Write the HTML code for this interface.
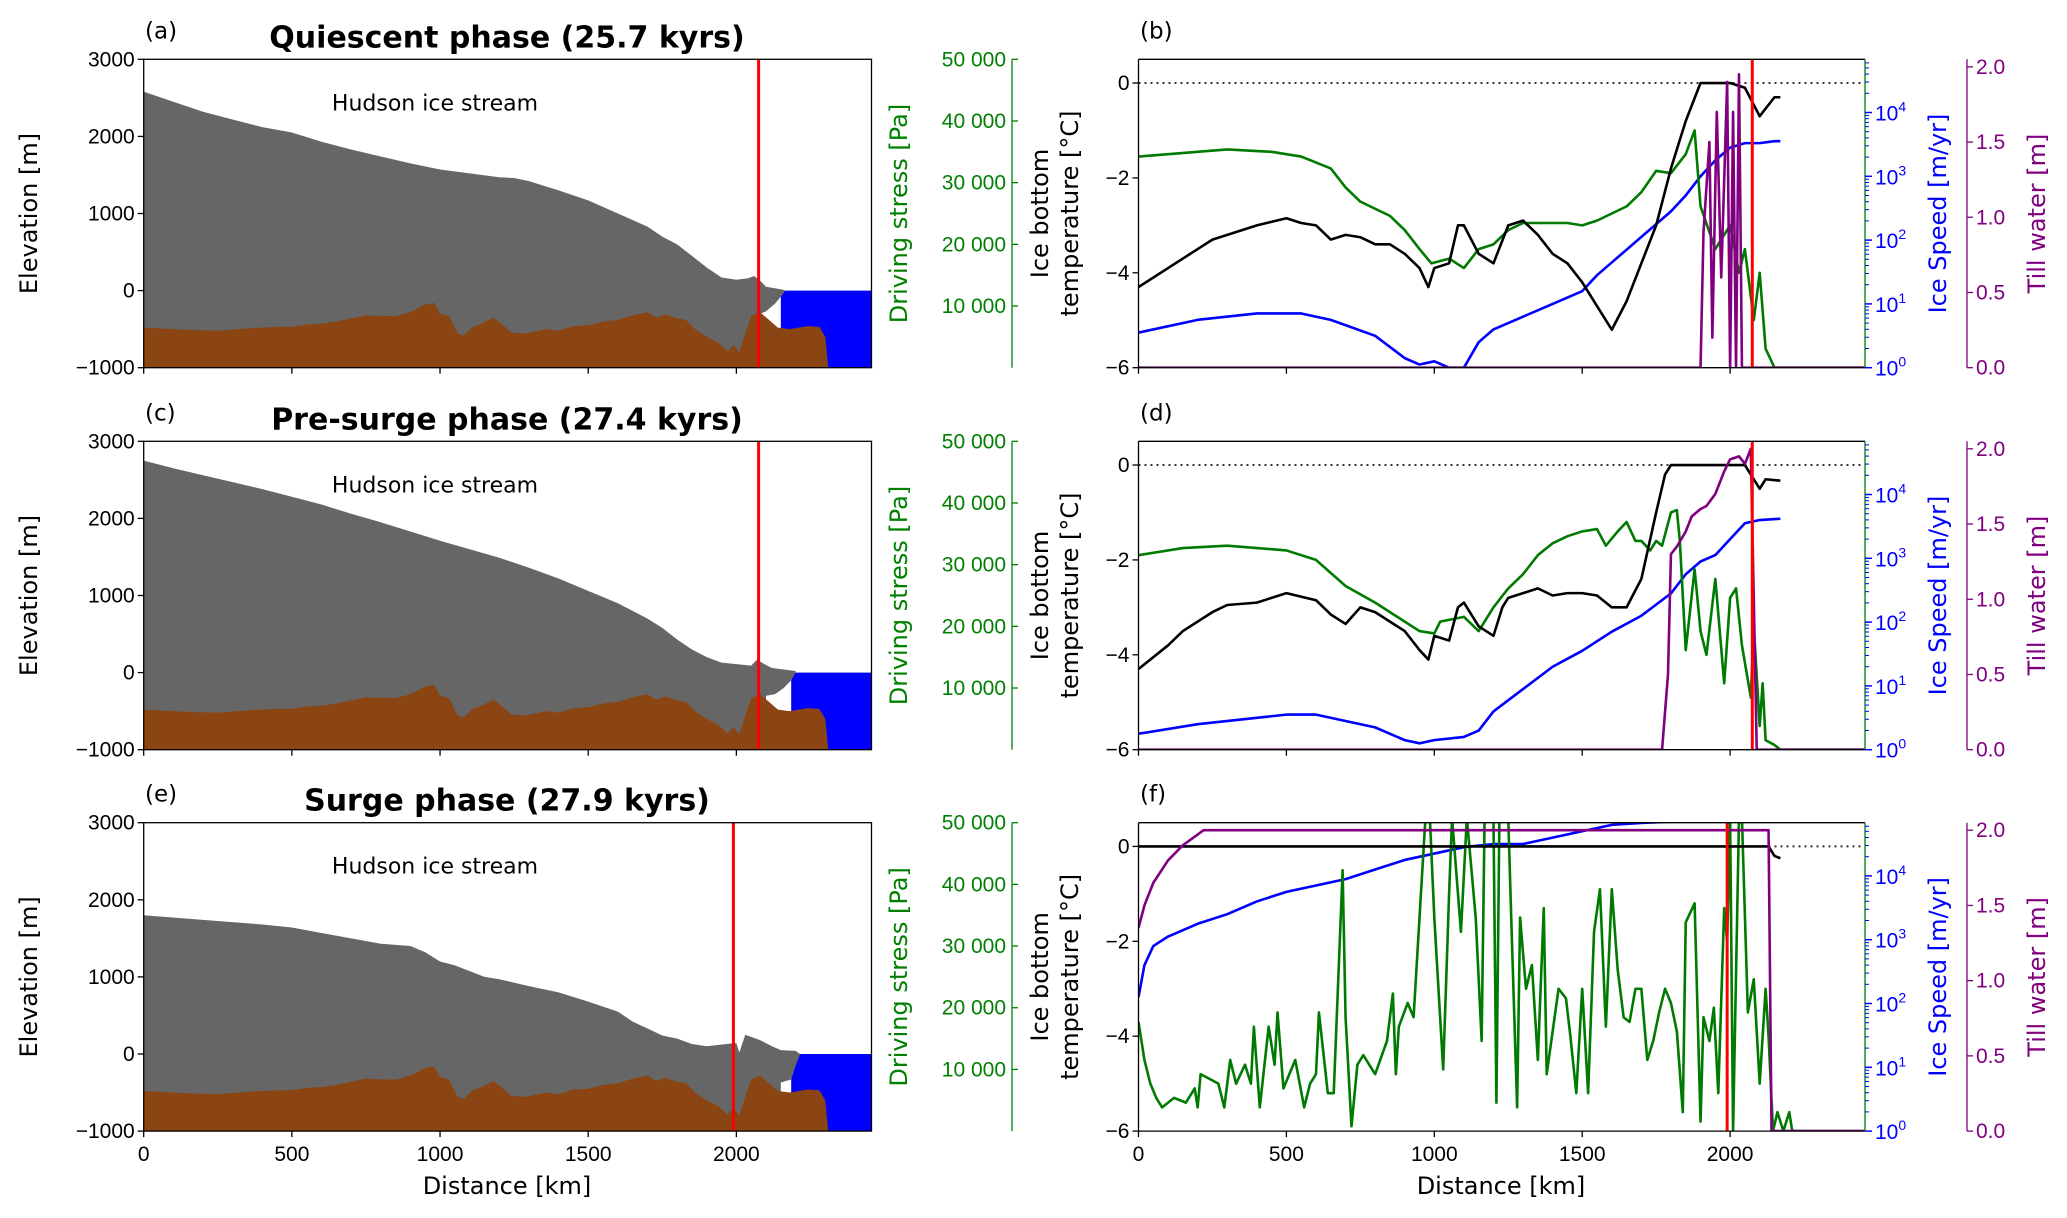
<!DOCTYPE html>
<html><head><meta charset="utf-8"><style>
html,body{margin:0;padding:0;background:#fff}
svg{display:block;font-family:"Liberation Sans",sans-serif}
.lab{font-family:"DejaVu Sans","Liberation Sans",sans-serif}
</style></head><body>
<svg id="fig" xmlns="http://www.w3.org/2000/svg" width="2067" height="1218" viewBox="0 0 2067 1218"></svg>
<script>
// ---------- data ----------
const bedX = [0,50,150,250,350,450,500,550,600,650,700,750,800,850,900,950,980,1000,1030,1060,1080,1110,1140,1180,1210,1240,1280,1320,1360,1400,1450,1500,1550,1600,1650,1700,1730,1760,1800,1830,1860,1900,1940,1970,1990,2010,2030,2050,2080,2110,2140,2180,2240,2280,2300,2310];
const bedZ = [-480,-490,-510,-520,-490,-470,-470,-440,-430,-400,-360,-320,-330,-330,-280,-180,-160,-300,-330,-560,-580,-470,-430,-350,-440,-540,-560,-530,-500,-520,-460,-450,-400,-380,-320,-280,-350,-310,-360,-380,-500,-600,-680,-790,-700,-800,-560,-330,-280,-380,-480,-500,-460,-470,-600,-1000];
const surfAX = [0,100,200,300,400,500,600,700,800,900,1000,1100,1200,1250,1300,1400,1500,1600,1700,1750,1800,1850,1900,1950,2000,2040,2060,2080,2100,2130,2160];
const surfAZ = [2580,2450,2320,2220,2120,2050,1930,1830,1740,1650,1570,1520,1470,1460,1420,1300,1170,1000,830,700,600,450,300,170,140,160,190,130,50,30,10];
const shelfAX = [2165,2150,2130,2100,2080];
const shelfAZ = [0,-80,-170,-270,-300];
const surfCX = [0,100,200,300,400,500,600,700,800,900,1000,1100,1200,1300,1400,1500,1600,1700,1750,1800,1850,1900,1950,2000,2050,2070,2090,2120,2160,2200];
const surfCZ = [2750,2650,2560,2470,2380,2280,2180,2060,1950,1830,1710,1600,1490,1360,1220,1060,900,700,580,430,300,200,130,110,90,170,120,60,40,20];
const shelfCX = [2200,2185,2160,2130,2100];
const shelfCZ = [0,-100,-200,-280,-300];
const surfEX = [0,200,400,500,600,700,800,900,950,1000,1050,1150,1200,1300,1400,1500,1600,1650,1700,1750,1800,1850,1900,1990,2000,2010,2030,2080,2120,2150,2200,2215];
const surfEZ = [1800,1740,1680,1640,1570,1500,1430,1400,1320,1200,1150,1000,970,880,800,680,550,420,330,240,200,130,100,140,140,20,250,180,100,50,40,0];
const shelfEX = [2215,2200,2185,2150];
const shelfEZ = [0,-150,-330,-370];
const waterStart = [2150, 2185, 2185];
const groundLine = [2075, 2075, 1990];
const titles = ["Quiescent phase (25.7 kyrs)","Pre-surge phase (27.4 kyrs)","Surge phase (27.9 kyrs)"];

const tBX=[0,100,200,250,300,400,500,550,600,650,700,750,800,850,900,950,980,1000,1050,1080,1100,1150,1200,1250,1300,1350,1400,1450,1500,1550,1600,1650,1700,1750,1800,1850,1900,1950,2000,2050,2100,2150,2170];
const tBV=[-4.3,-3.9,-3.5,-3.3,-3.2,-3.0,-2.85,-2.95,-3.0,-3.3,-3.2,-3.25,-3.4,-3.4,-3.6,-3.9,-4.3,-3.9,-3.8,-3.0,-3.0,-3.6,-3.8,-3.0,-2.9,-3.2,-3.6,-3.8,-4.2,-4.7,-5.2,-4.6,-3.8,-3.0,-1.8,-0.8,0,0,0,-0.1,-0.7,-0.3,-0.3];
const gBX=[0,200,300,450,550,650,700,750,800,850,900,950,990,1050,1100,1150,1200,1250,1300,1350,1450,1500,1550,1600,1650,1700,1750,1800,1850,1880,1900,1950,2000,2030,2050,2080,2100,2120,2150,2456];
const gBV=[-1.55,-1.45,-1.4,-1.45,-1.55,-1.8,-2.2,-2.5,-2.65,-2.8,-3.1,-3.5,-3.8,-3.7,-3.9,-3.5,-3.4,-3.1,-2.95,-2.95,-2.95,-3.0,-2.9,-2.75,-2.6,-2.3,-1.85,-1.9,-1.5,-1.0,-2.6,-3.5,-3.0,-4.0,-3.5,-5.0,-4.0,-5.6,-6,-6];
const sBX=[0,200,400,550,650,800,900,950,1000,1050,1100,1150,1200,1300,1400,1500,1550,1600,1650,1700,1750,1800,1850,1900,1950,2000,2050,2100,2150,2170];
const sBV=[0.55,0.75,0.85,0.85,0.75,0.5,0.15,0.05,0.1,0.0,0.0,0.4,0.6,0.8,1.0,1.2,1.45,1.65,1.85,2.05,2.25,2.45,2.7,3.0,3.25,3.45,3.52,3.52,3.55,3.55];
const wBX=[0,1900,1910,1930,1940,1955,1970,1990,2000,2010,2020,2030,2040,2456];
const wBV=[0,0,0.9,1.5,0.2,1.7,0.6,1.9,0,1.7,0,1.95,0,0];

const tDX=[0,100,150,250,300,400,500,600,650,700,750,800,850,900,950,980,1000,1050,1080,1100,1150,1200,1230,1250,1300,1350,1400,1450,1500,1550,1600,1650,1700,1750,1780,1800,2050,2080,2100,2120,2170];
const tDV=[-4.3,-3.8,-3.5,-3.1,-2.95,-2.9,-2.7,-2.85,-3.15,-3.35,-3.0,-3.1,-3.3,-3.5,-3.9,-4.1,-3.6,-3.7,-3.0,-2.9,-3.4,-3.6,-3.0,-2.8,-2.7,-2.6,-2.75,-2.7,-2.7,-2.75,-3.0,-3.0,-2.4,-1.0,-0.2,0,0,-0.3,-0.5,-0.3,-0.33];
const gDX=[0,150,300,500,600,700,800,900,950,1000,1020,1100,1150,1200,1250,1300,1350,1400,1450,1500,1550,1580,1620,1650,1680,1700,1730,1750,1770,1800,1820,1830,1850,1880,1900,1920,1950,1980,2000,2020,2040,2070,2080,2100,2110,2120,2150,2170,2456];
const gDV=[-1.9,-1.75,-1.7,-1.8,-2.0,-2.55,-2.9,-3.3,-3.5,-3.55,-3.3,-3.2,-3.5,-3.0,-2.6,-2.3,-1.9,-1.65,-1.5,-1.4,-1.35,-1.7,-1.4,-1.2,-1.6,-1.6,-1.8,-1.6,-1.7,-1.0,-0.95,-1.6,-3.9,-2.2,-3.5,-4.0,-2.4,-4.6,-2.8,-2.6,-3.8,-4.9,-3.4,-5.5,-4.6,-5.8,-5.9,-6,-6];
const sDX=[0,200,400,500,600,700,800,900,950,1000,1100,1150,1200,1300,1400,1500,1600,1700,1800,1850,1900,1950,2000,2050,2100,2170];
const sDV=[0.25,0.4,0.5,0.55,0.55,0.45,0.35,0.15,0.1,0.15,0.2,0.3,0.6,0.95,1.3,1.55,1.85,2.1,2.45,2.75,2.95,3.05,3.3,3.55,3.6,3.62];
const wDX=[0,1770,1790,1800,1820,1850,1870,1900,1920,1950,1980,2000,2030,2050,2070,2080,2090,2456];
const wDV=[0,0,0.5,1.3,1.35,1.45,1.55,1.6,1.62,1.7,1.85,1.93,1.95,1.9,2.0,1.0,0,0];

const tFX=[0,2130,2150,2170];
const tFV=[0,0,-0.2,-0.25];
const gFX=[0,20,40,60,80,120,160,190,200,210,240,270,290,310,330,360,380,390,410,440,460,470,490,530,560,580,600,610,640,660,690,700,720,740,760,800,840,860,870,880,910,930,950,970,985,1000,1030,1050,1060,1090,1110,1140,1160,1170,1200,1210,1220,1250,1260,1280,1290,1310,1330,1350,1370,1380,1420,1445,1460,1480,1500,1520,1540,1560,1580,1600,1620,1640,1660,1680,1700,1720,1740,1760,1780,1800,1820,1840,1850,1880,1900,1910,1930,1945,1960,1980,1990,2000,2010,2030,2040,2060,2080,2100,2120,2130,2145,2160,2180,2200,2210,2456];
const gFV=[-3.7,-4.5,-5.0,-5.3,-5.5,-5.3,-5.4,-5.1,-5.5,-4.8,-4.9,-5.0,-5.5,-4.5,-5.0,-4.6,-5.0,-3.8,-5.5,-3.8,-4.6,-3.5,-5.1,-4.5,-5.5,-5.0,-4.8,-3.5,-5.2,-5.2,-0.5,-3.6,-5.9,-4.6,-4.4,-4.8,-4.1,-3.1,-4.8,-3.8,-3.3,-3.6,-1.5,0.6,0.6,-1.5,-4.7,-1.0,0.6,-1.8,0.6,-1.5,-4.1,0.6,0.6,-5.4,0.6,0.6,-1.5,-5.5,-1.5,-3.0,-2.5,-4.5,-1.3,-4.8,-3.0,-3.2,-4.0,-5.2,-3.0,-5.2,-1.8,-0.9,-3.8,-0.9,-2.6,-3.6,-3.7,-3.0,-3.0,-4.5,-4.1,-3.5,-3.0,-3.3,-3.9,-5.6,-1.6,-1.2,-5.8,-3.6,-4.1,-3.4,-5.2,-1.3,-2.0,0.6,-6,0.6,0.6,-3.5,-2.8,-5.0,-3.0,-4.0,-6,-5.6,-6,-5.6,-6,-6];
const sFX=[0,20,50,100,150,200,300,400,500,600,700,800,900,1000,1100,1200,1300,1400,1500,1600,1700,1800,1900,2000,2050,2080];
const sFV=[2.1,2.6,2.9,3.05,3.15,3.25,3.4,3.6,3.75,3.85,3.95,4.1,4.25,4.35,4.45,4.5,4.5,4.6,4.7,4.8,4.83,4.85,4.88,4.95,5.2,5.4];
const wFX=[0,20,50,100,150,220,2130,2140,2456];
const wFV=[1.35,1.5,1.65,1.8,1.9,2.0,2.0,0,0];

const xTicks=[0,500,1000,1500,2000];
const elevTicks=[-1000,0,1000,2000,3000];
const stressTicks=[10000,20000,30000,40000,50000];
const tempTicks=[-6,-4,-2,0];
const speedTicks=[0,1,2,3,4];
const tillTicks=[0,0.5,1.0,1.5,2.0];

// ---------- layout ----------
const XMAX=2456;
const LX0=143.7, LX1=871.5, RX0=1138.5, RX1=1865;
const rowTop=[59.3,441.3,822.7], H=308.4;
const LABF=24;
const svg=document.getElementById('fig');
const NS='http://www.w3.org/2000/svg';
function mk(tag,attrs,parent,text){const e=document.createElementNS(NS,tag);for(const k in attrs)e.setAttribute(k,attrs[k]);if(text!==undefined)e.textContent=text;(parent||svg).appendChild(e);return e;}
const defs=mk('defs',{});

function leftX(v){return LX0+v/XMAX*(LX1-LX0);}
function rightX(v){return RX0+v/XMAX*(RX1-RX0);}

for(let r=0;r<3;r++){
  const top=rowTop[r], bot=top+H;
  const eY=v=>bot-(v+1000)/4000*H;
  const sY=v=>bot-v/50000*H;
  const tY=v=>bot-(v+6)/6.5*H;
  const lY=v=>bot-v/4.834*H;
  const wY=v=>bot-v/2.05*H;
  const sx=[surfAX,surfCX,surfEX][r], sz=[surfAZ,surfCZ,surfEZ][r];
  const hx=[shelfAX,shelfCX,shelfEX][r], hz=[shelfAZ,shelfCZ,shelfEZ][r];
  const tag=['a','c','e'][r], tag2=['b','d','f'][r];

  // ---- left panel ----
  const gL=mk('g',{},svg);
  
  
  const cid='clipL'+r;
  const cp=mk('clipPath',{id:cid},defs);mk('rect',{x:LX0,y:top,width:LX1-LX0,height:H},cp);
  const gc=mk('g',{'clip-path':'url(#'+cid+')'},gL);
  const water=mk('rect',{x:leftX(waterStart[r]),y:eY(0),width:LX1-leftX(waterStart[r]),height:eY(-1000)-eY(0),fill:'#0000ff'},gc);
  
  
  let d='M'+leftX(0)+','+eY(-1000);
  sx.forEach((x,i)=>{d+=' L'+leftX(x)+','+eY(sz[i]);});
  hx.forEach((x,i)=>{d+=' L'+leftX(x)+','+eY(hz[i]);});
  d+=' L'+leftX(hx[hx.length-1])+','+eY(-1000)+' Z';
  const ice=mk('path',{d:d,fill:'#666666'},gc);
  
  
  let db='M'+leftX(0)+','+eY(-1000);
  bedX.forEach((x,i)=>{db+=' L'+leftX(x)+','+eY(bedZ[i]);});
  db+=' Z';
  const bed=mk('path',{d:db,fill:'#8b4513'},gc);
  
  
  const gl=mk('line',{x1:leftX(groundLine[r]),x2:leftX(groundLine[r]),y1:top,y2:bot,stroke:'#ff0000','stroke-width':3},gL);
  
  
  mk('rect',{x:LX0,y:top,width:LX1-LX0,height:H,fill:'none',stroke:'#000','stroke-width':1.3},gL);
  elevTicks.forEach(v=>{mk('line',{x1:LX0-6,x2:LX0,y1:eY(v),y2:eY(v),stroke:'#000','stroke-width':1.3},gL);
    const t=mk('text',{x:LX0-9,y:eY(v)+7,'font-size':21,'text-anchor':'end'},gL,v===-1000?'\u22121000':String(v));
    
    });
  xTicks.forEach(v=>{mk('line',{x1:leftX(v),x2:leftX(v),y1:bot,y2:bot+6,stroke:'#000','stroke-width':1.3},gL);
    if(r===2){const t=mk('text',{x:leftX(v),y:bot+30,'font-size':21,'text-anchor':'middle'},gL,String(v));
    
    }});
  const yl=mk('text',{x:0,y:0,'class':'lab','font-size':LABF,'text-anchor':'middle',transform:'translate(37,'+(top+H/2)+') rotate(-90)'},gL,'Elevation [m]');
  
  
  mk('line',{x1:1012,x2:1012,y1:top,y2:bot,stroke:'#008000','stroke-width':1.3},gL);
  stressTicks.forEach(v=>{mk('line',{x1:1012,x2:1018,y1:sY(v),y2:sY(v),stroke:'#008000','stroke-width':1.3},gL);
    const t=mk('text',{x:1006,y:sY(v)+7,'font-size':21,'text-anchor':'end',fill:'#008000'},gL,String(v).replace(/(\d\d)(000)$/,'$1 $2'));
    
    });
  const sl=mk('text',{x:0,y:0,'class':'lab','font-size':LABF,'text-anchor':'middle',fill:'#008000',transform:'translate(907,'+(top+H/2)+') rotate(-90)'},gL,'Driving stress [Pa]');
  
  
  const hl=mk('text',{x:435,y:top+51,'class':'lab','font-size':22,'text-anchor':'middle'},gL,'Hudson ice stream');
  
  
  const pl=mk('text',{x:145,y:top-21,'class':'lab','font-size':23},gL,'('+tag+')');
  
  
  const tt=mk('text',{x:507,y:top-12,'class':'lab','font-size':30,'font-weight':'bold','text-anchor':'middle'},gL,titles[r]);
  
  

  // ---- right panel ----
  const gR=mk('g',{},svg);
  
  
  const cid2='clipR'+r;
  const cp2=mk('clipPath',{id:cid2},defs);mk('rect',{x:RX0,y:top,width:RX1-RX0,height:H},cp2);
  const gc2=mk('g',{'clip-path':'url(#'+cid2+')'},gR);
  mk('line',{x1:RX0,x2:RX1,y1:tY(0),y2:tY(0),stroke:'#333','stroke-width':2,'stroke-dasharray':'2,4'},gc2);
  function series(xs,vs,yf,col,name){
    let p='';xs.forEach((x,i)=>{p+=(i?' L':'M')+rightX(x)+','+yf(vs[i]);});
    const e=mk('path',{d:p,fill:'none',stroke:col,'stroke-width':2.6,'stroke-linejoin':'round'},gc2);
    
    
  }
  const T=[[tBX,tBV],[tDX,tDV],[tFX,tFV]][r];
  const G=[[gBX,gBV],[gDX,gDV],[gFX,gFV]][r];
  const S=[[sBX,sBV],[sDX,sDV],[sFX,sFV]][r];
  const W=[[wBX,wBV],[wDX,wDV],[wFX,wFV]][r];
  series(S[0],S[1],lY,'#0000ff','ice-speed-line-'+tag2);
  series(G[0],G[1],tY,'#007a00','driving-stress-line-'+tag2);
  series(T[0],T[1],tY,'#000000','bottom-temperature-line-'+tag2);
  series(W[0],W[1],wY,'#800080','till-water-line-'+tag2);
  const rl=mk('line',{x1:rightX(groundLine[r]),x2:rightX(groundLine[r]),y1:top,y2:bot,stroke:'#ff0000','stroke-width':3},gc2);
  
  
  mk('line',{x1:RX0,x2:RX1,y1:top,y2:top,stroke:'#000','stroke-width':1.3},gR);
  mk('line',{x1:RX0,x2:RX1,y1:bot,y2:bot,stroke:'#000','stroke-width':1.3},gR);
  mk('line',{x1:RX0,x2:RX0,y1:top,y2:bot,stroke:'#000','stroke-width':1.3},gR);
  mk('line',{x1:RX1,x2:RX1,y1:top,y2:bot,stroke:'#008000','stroke-width':1.3},gR);
  tempTicks.forEach(v=>{mk('line',{x1:RX0-6,x2:RX0,y1:tY(v),y2:tY(v),stroke:'#000','stroke-width':1.3},gR);
    const t=mk('text',{x:RX0-9,y:tY(v)+7,'font-size':21,'text-anchor':'end'},gR,v<0?'\u2212'+(-v):String(v));
    
    });
  xTicks.forEach(v=>{mk('line',{x1:rightX(v),x2:rightX(v),y1:bot,y2:bot+6,stroke:'#000','stroke-width':1.3},gR);
    if(r===2){const t=mk('text',{x:rightX(v),y:bot+30,'font-size':21,'text-anchor':'middle'},gR,String(v));
    
    }});
  speedTicks.forEach(v=>{mk('line',{x1:RX1,x2:RX1+7,y1:lY(v),y2:lY(v),stroke:'#0000ff','stroke-width':1.5},gR);
    for(let k=2;k<10;k++){const yy=lY(v+Math.log10(k));if(yy>top)mk('line',{x1:RX1,x2:RX1+4,y1:yy,y2:yy,stroke:'#0000ff','stroke-width':1},gR);}
    const t=mk('text',{x:RX1+10,y:lY(v)+8,'font-size':21,fill:'#0000ff'},gR);
    
    
    mk('tspan',{},t,'10');mk('tspan',{dy:-9,'font-size':14},t,String(v));});
  const bl=mk('text',{x:0,y:0,'class':'lab','font-size':LABF,'text-anchor':'middle',fill:'#0000ff',transform:'translate(1946,'+(top+H/2)+') rotate(-90)'},gR,'Ice Speed [m/yr]');
  
  
  mk('line',{x1:1967,x2:1967,y1:top,y2:bot,stroke:'#800080','stroke-width':1.3},gR);
  tillTicks.forEach(v=>{mk('line',{x1:1967,x2:1973,y1:wY(v),y2:wY(v),stroke:'#800080','stroke-width':1.3},gR);
    const t=mk('text',{x:1976,y:wY(v)+7,'font-size':21,fill:'#800080'},gR,v.toFixed(1));
    
    });
  const ml=mk('text',{x:0,y:0,'class':'lab','font-size':LABF,'text-anchor':'middle',fill:'#800080',transform:'translate(2045,'+(top+H/2)+') rotate(-90)'},gR,'Till water [m]');
  
  
  const t1=mk('text',{x:0,y:0,'class':'lab','font-size':LABF,'text-anchor':'middle',transform:'translate(1048,'+(top+H/2)+') rotate(-90)'},gR,'Ice bottom');
  
  
  mk('text',{x:0,y:0,'class':'lab','font-size':LABF,'text-anchor':'middle',transform:'translate(1078,'+(top+H/2)+') rotate(-90)'},gR,'temperature [\u00b0C]');
  const pl2=mk('text',{x:1140,y:top-21,'class':'lab','font-size':23},gR,'('+tag2+')');
  
  
}
const xl1=mk('text',{x:507,y:1194,'class':'lab','font-size':LABF,'text-anchor':'middle'},svg,'Distance [km]');


const xl2=mk('text',{x:1501,y:1194,'class':'lab','font-size':LABF,'text-anchor':'middle'},svg,'Distance [km]');


</script>
</body></html>
